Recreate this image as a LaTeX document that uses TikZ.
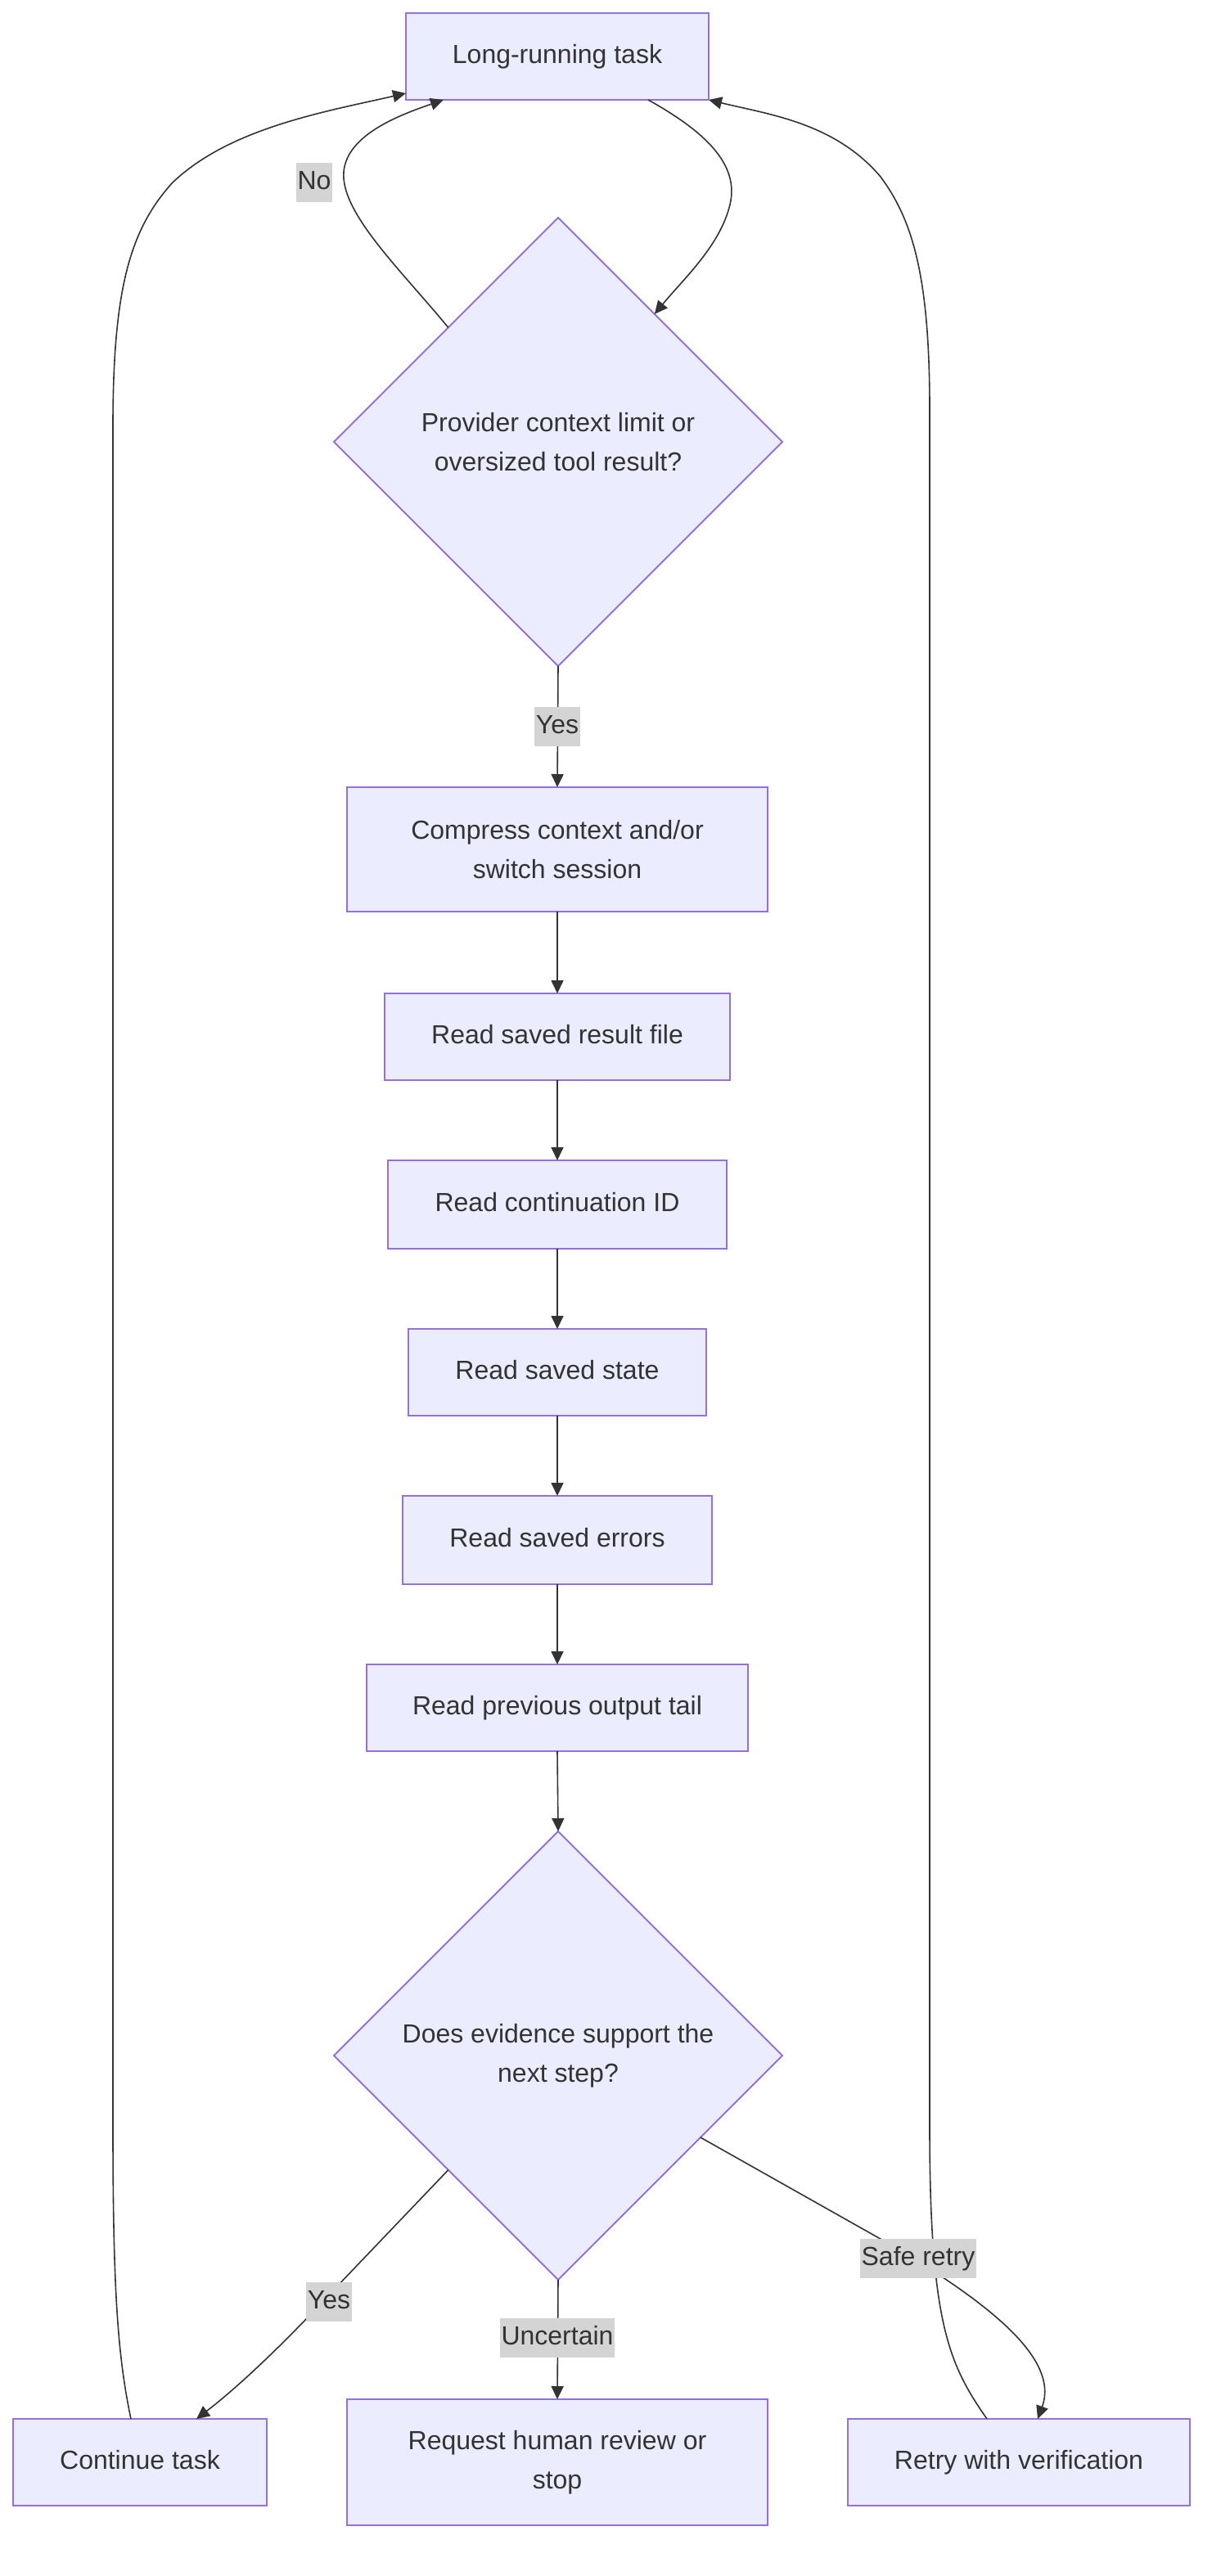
\documentclass[tikz,border=0pt]{standalone}
\usepackage{fontspec}
\setmainfont{Liberation Sans}
\usetikzlibrary{shapes.geometric,arrows.meta,calc}
\definecolor{boxfill}{HTML}{ECECFF}
\definecolor{boxline}{HTML}{9370DB}
\definecolor{ink}{HTML}{333333}
\definecolor{lblbg}{HTML}{D4D4D4}
\begin{document}
\begin{tikzpicture}[x=1pt,y=-1pt,
  every node/.style={font=\fontsize{16}{24}\selectfont, text=ink, outer sep=0pt},
  oneline/.style={text height=12pt, text depth=4pt},
  box/.style={draw=boxline, fill=boxfill, line width=1pt, inner sep=0pt, align=center},
  decision/.style={diamond, aspect=1, draw=boxline, fill=boxfill, line width=1pt, minimum width=274pt, minimum height=274pt, inner sep=0pt, align=center},
  lbl/.style={oneline, fill=lblbg, inner xsep=1pt, inner ysep=4pt},
  link/.style={draw=ink, line width=0.8pt, -{Triangle[length=8pt,width=7.5pt]}}]
\useasboundingbox (0,0) rectangle (746,1574);
\fill[white] (0,0) rectangle (746,1574);

\node[box, oneline, minimum width=185pt, minimum height=53pt] (top) at (340.5,34.5) {Long-running task};
\node[decision] (d1) at (341,270) {Provider context limit or\\oversized tool result?};
\node[box, minimum width=257pt, minimum height=76pt] (cmp) at (340.5,519) {Compress context and/or\\switch session};
\node[box, oneline, minimum width=211pt, minimum height=53pt] (r1) at (340.5,633.5) {Read saved result file};
\node[box, oneline, minimum width=207pt, minimum height=54pt] (r2) at (340.5,736) {Read continuation ID};
\node[box, oneline, minimum width=182pt, minimum height=53pt] (r3) at (340.5,838.5) {Read saved state};
\node[box, oneline, minimum width=189pt, minimum height=54pt] (r4) at (340.5,941) {Read saved errors};
\node[box, oneline, minimum width=233pt, minimum height=53pt] (r5) at (340.5,1043.5) {Read previous output tail};
\node[decision] (d2) at (341,1256) {Does evidence support the\\next step?};
\node[box, oneline, minimum width=155pt, minimum height=53pt] (cont) at (85.5,1504.5) {Continue task};
\node[box, minimum width=257pt, minimum height=77pt] (req) at (340.5,1504.5) {Request human review or\\stop};
\node[box, oneline, minimum width=209pt, minimum height=53pt] (retry) at (622.5,1504.5) {Retry with verification};

% top -> d1
\draw[link] ($(top.south)+(55.5,0)$) .. controls (430,80) and (452,100) .. (446,125)
  .. controls (440,150) and (418,170) .. ($(d1.north)!0.43!(d1.east)$);
% d1 -> top (No)
\draw[link] ($(d1.north)!0.49!(d1.west)$) .. controls (245,165) and (208,130) .. (210,105)
  .. controls (212,82) and (245,70) .. ($(top.south)+(-69.5,0)$);
% chain
\draw[link] (d1.south) -- (cmp.north);
\draw[link] (cmp.south) -- (r1.north);
\draw[link] (r1.south) -- (r2.north);
\draw[link] (r2.south) -- (r3.north);
\draw[link] (r3.south) -- (r4.north);
\draw[link] (r4.south) -- (r5.north);
\draw[link] (r5.south) -- (d2.north);
% d2 -> cont (Yes)
\draw[link] ($(d2.south)!0.49!(d2.west)$) -- (205,1398) .. controls (180,1425) and (150,1455) .. ($(cont.north)+(34.5,0)$);
% d2 -> req
\draw[link] (d2.south) -- (req.north);
% d2 -> retry
\draw[link] ($(d2.south)!0.635!(d2.east)$) -- (545,1372) .. controls (600,1405) and (648,1440) .. ($(retry.north)+(11.5,0)$);
% cont -> top
\draw[link] ($(cont.north)+(-5.5,0)$) .. controls (72,1440) and (69,1400) .. (69,1300) -- (69,260)
  .. controls (69,175) and (80,140) .. (105,112) .. controls (140,78) and (200,68) .. ($(top.south west)+(0,-4)$);
% retry -> top
\draw[link] ($(retry.north)+(-19.5,0)$) .. controls (580,1445) and (568,1420) .. (568,1300) -- (568,250)
  .. controls (568,170) and (558,135) .. (538,108) .. controls (510,75) and (470,70) .. (top.south east);

% edge labels
\node[lbl] (lno) at (192,111.5) {No};
\node[lbl] (lyes1) at (340.5,444) {Yes};
\node[lbl] (lyes2) at (201,1406.5) {Yes};
\node[lbl] (lunc) at (340.5,1428.5) {Uncertain};
\node[lbl] (lsafe) at (561,1380) {Safe retry};
\end{tikzpicture}
\end{document}
